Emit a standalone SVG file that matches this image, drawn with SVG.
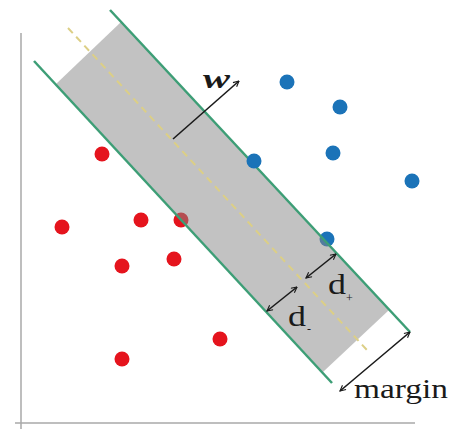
<svg xmlns="http://www.w3.org/2000/svg" width="461" height="429" viewBox="0 0 461 429">
  <style>
    .axis { stroke: #a8a8a8; stroke-width: 1.5; fill: none; }
    .hyper { stroke: #3d9e76; stroke-width: 2.5; fill: none; }
    .mid { stroke: #dccf86; stroke-width: 2; stroke-dasharray: 7 5; fill: none; }
    .band { fill: #858585; fill-opacity: 0.5; }
    .red { fill: #e5141d; }
    .blue { fill: #1b73b8; }
    .arr { stroke: #1a1a1a; stroke-width: 1.6; fill: none; }
    .lbl { font-family: "Liberation Serif", "Times New Roman", serif; fill: #1a1a1a; }
  </style>
  <defs>
    <marker id="head" viewBox="0 0 10 10" refX="9" refY="5" markerWidth="7" markerHeight="7" markerUnits="userSpaceOnUse" orient="auto-start-reverse">
      <path d="M1,1 L9,5 L1,9" fill="none" stroke="#1a1a1a" stroke-width="1.6"/>
    </marker>
  </defs>
  <rect width="461" height="429" fill="#ffffff"/>

  <g id="axes">
    <line class="axis" x1="21" y1="33" x2="21" y2="429"/>
    <line class="axis" x1="15" y1="423" x2="415" y2="423"/>
  </g>

  <g id="points">
    <circle class="red" cx="102" cy="154" r="7.5"/>
    <circle class="red" cx="62" cy="227" r="7.5"/>
    <circle class="red" cx="141" cy="220" r="7.5"/>
    <circle class="red" cx="181" cy="220" r="7.5"/>
    <circle class="red" cx="122" cy="266" r="7.5"/>
    <circle class="red" cx="174" cy="259" r="7.5"/>
    <circle class="red" cx="220" cy="339" r="7.5"/>
    <circle class="red" cx="122" cy="359" r="7.5"/>
    <circle class="blue" cx="287" cy="82" r="7.5"/>
    <circle class="blue" cx="340" cy="107" r="7.5"/>
    <circle class="blue" cx="333" cy="153" r="7.5"/>
    <circle class="blue" cx="412" cy="181" r="7.5"/>
    <circle class="blue" cx="327" cy="239" r="7.5"/>
  </g>

  <g id="margin-band">
    <polygon class="band" points="121,22 389,310 323,372 56,84"/>
  </g>

  <g id="hyperplanes">
    <line class="mid" x1="68" y1="28" x2="367" y2="350"/>
    <line class="hyper" x1="110" y1="10" x2="410" y2="332"/>
    <line class="hyper" x1="34" y1="61" x2="332" y2="383"/>
  </g>

  <g id="support-point">
    <circle class="blue" cx="254" cy="161" r="7.5"/>
  </g>

  <g id="connectors">
    <line class="arr" x1="173" y1="139" x2="239" y2="81" marker-end="url(#head)"/>
    <line class="arr" x1="306" y1="278" x2="336" y2="254" marker-start="url(#head)" marker-end="url(#head)"/>
    <line class="arr" x1="267" y1="311" x2="297" y2="287" marker-start="url(#head)" marker-end="url(#head)"/>
    <line class="arr" x1="340" y1="391" x2="410" y2="332" marker-start="url(#head)" marker-end="url(#head)"/>
  </g>

  <g id="labels">
    <text class="lbl" x="203" y="88" font-size="28" font-weight="bold" font-style="italic" textLength="27" lengthAdjust="spacingAndGlyphs">w</text>
    <text class="lbl" x="328" y="294" font-size="29" textLength="18" lengthAdjust="spacingAndGlyphs">d</text>
    <text class="lbl" x="346" y="302" font-size="12">+</text>
    <text class="lbl" x="288" y="326" font-size="29" textLength="18" lengthAdjust="spacingAndGlyphs">d</text>
    <text class="lbl" x="307" y="333" font-size="12">-</text>
    <text class="lbl" x="354" y="398" font-size="28" textLength="94" lengthAdjust="spacingAndGlyphs">margin</text>
  </g>
</svg>
